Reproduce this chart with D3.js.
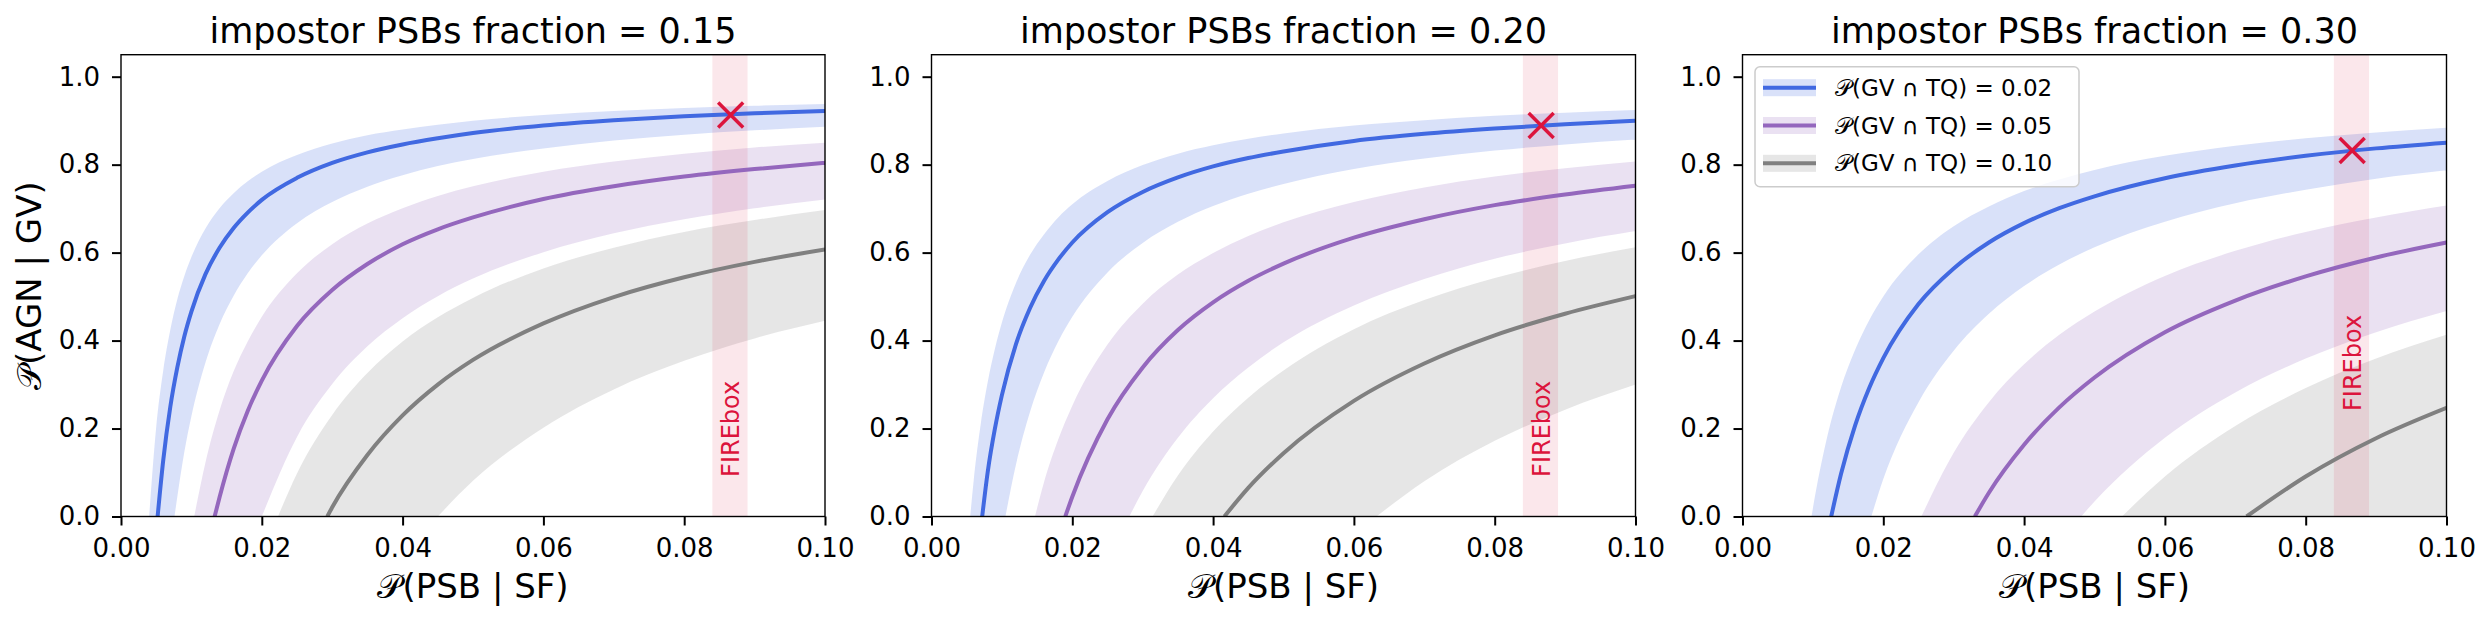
<!DOCTYPE html>
<html>
<head>
<meta charset="utf-8">
<script src="https://cdn.jsdelivr.net/npm/d3@7"></script>
<style>
body { margin: 0; background: #fff; }
svg { font-family: "DejaVu Sans", sans-serif; }
</style>
</head>
<body>
<svg id="chart" width="2492" height="625"></svg>
<script>
// P(PSB|SF) values the curves were read at; each value list is right-aligned to this grid
var psbGrid = [0.005, 0.006, 0.007, 0.008, 0.009, 0.010, 0.012, 0.014, 0.016, 0.018, 0.020,
               0.025, 0.030, 0.035, 0.040, 0.045, 0.050, 0.060, 0.070, 0.080, 0.090, 0.100];

var fractions = ['0.15', '0.20', '0.30'];
var gvtqLabels = ['0.02', '0.05', '0.10'];
var lineColors = ['royalblue', '#9467bd', 'gray'];

var xTicks = [0, 0.02, 0.04, 0.06, 0.08, 0.10];
var yTicks = [0, 0.2, 0.4, 0.6, 0.8, 1.0];

// where each curve leaves zero: [line, lower edge, upper edge] for 0.02 / 0.05 / 0.10
var zero15 = [[0.0052, 0.0076, 0.0040], [0.0133, 0.0200, 0.0104], [0.0293, 0.0450, 0.0223]];
var zero20 = [[0.0072, 0.0105, 0.0055], [0.0190, 0.0281, 0.0147], [0.0416, 0.0632, 0.0314]];
var zero30 = [[0.0126, 0.0183, 0.0098], [0.0330, 0.0481, 0.0254], [0.0716, null, 0.0539]];

// impostor fraction 0.15
var mid15 = [
  [0.128, 0.249, 0.339, 0.410, 0.466, 0.551, 0.611, 0.656, 0.691, 0.720, 0.770, 0.804, 0.828, 0.846, 0.860, 0.872, 0.889, 0.901, 0.910, 0.917, 0.922],
  [0.044, 0.154, 0.240, 0.309, 0.433, 0.515, 0.574, 0.619, 0.653, 0.680, 0.722, 0.751, 0.773, 0.790, 0.804],
  [0.021, 0.140, 0.230, 0.300, 0.356, 0.439, 0.499, 0.544, 0.579, 0.607]
];
var lo15 = [
  [0.045, 0.147, 0.228, 0.350, 0.437, 0.502, 0.553, 0.594, 0.667, 0.715, 0.750, 0.776, 0.797, 0.813, 0.837, 0.855, 0.868, 0.878, 0.886],
  [0.181, 0.301, 0.387, 0.451, 0.501, 0.541, 0.601, 0.644, 0.676, 0.701, 0.721],
  [0.081, 0.202, 0.289, 0.354, 0.405, 0.445]
];
var hi15 = [
  [0.203, 0.332, 0.424, 0.494, 0.547, 0.590, 0.655, 0.701, 0.735, 0.762, 0.784, 0.822, 0.848, 0.867, 0.880, 0.891, 0.900, 0.913, 0.922, 0.929, 0.934, 0.938],
  [0.123, 0.241, 0.330, 0.398, 0.454, 0.553, 0.619, 0.666, 0.701, 0.729, 0.751, 0.784, 0.807, 0.825, 0.839, 0.850],
  [0.098, 0.231, 0.326, 0.398, 0.453, 0.497, 0.564, 0.611, 0.647, 0.674, 0.697]
];

// impostor fraction 0.20
var mid20 = [
  [0.103, 0.199, 0.276, 0.392, 0.474, 0.536, 0.584, 0.623, 0.692, 0.738, 0.771, 0.796, 0.815, 0.830, 0.854, 0.870, 0.882, 0.892, 0.900],
  [0.045, 0.221, 0.339, 0.424, 0.487, 0.536, 0.575, 0.634, 0.676, 0.708, 0.732, 0.752],
  [0.065, 0.144, 0.263, 0.348, 0.412, 0.461, 0.501]
];
var lo20 = [
  [0.118, 0.238, 0.328, 0.398, 0.454, 0.555, 0.622, 0.670, 0.706, 0.734, 0.756, 0.790, 0.814, 0.832, 0.846, 0.857],
  [0.058, 0.179, 0.269, 0.339, 0.396, 0.480, 0.540, 0.586, 0.621, 0.649],
  [0.080, 0.172, 0.243, 0.300]
];
var hi20 = [
  [0.083, 0.211, 0.307, 0.381, 0.441, 0.531, 0.595, 0.642, 0.680, 0.710, 0.763, 0.799, 0.825, 0.844, 0.859, 0.871, 0.889, 0.901, 0.911, 0.918, 0.924],
  [0.079, 0.175, 0.252, 0.391, 0.484, 0.550, 0.599, 0.638, 0.669, 0.715, 0.748, 0.773, 0.792, 0.807],
  [0.093, 0.193, 0.270, 0.332, 0.426, 0.492, 0.542, 0.581, 0.612]
];

// impostor fraction 0.30
var mid30 = [
  [0.097, 0.207, 0.292, 0.360, 0.483, 0.564, 0.623, 0.667, 0.701, 0.728, 0.769, 0.798, 0.820, 0.837, 0.850],
  [0.054, 0.163, 0.248, 0.316, 0.419, 0.491, 0.546, 0.589, 0.623],
  [0.091, 0.178, 0.247]
];
var lo30 = [
  [0.085, 0.260, 0.377, 0.461, 0.524, 0.573, 0.612, 0.670, 0.712, 0.743, 0.768, 0.787],
  [0.034, 0.179, 0.282, 0.359, 0.419, 0.467],
  []
];
var hi30 = [
  [0.019, 0.179, 0.294, 0.379, 0.446, 0.500, 0.596, 0.660, 0.705, 0.740, 0.766, 0.788, 0.820, 0.843, 0.860, 0.873, 0.884],
  [0.145, 0.260, 0.346, 0.413, 0.466, 0.547, 0.604, 0.647, 0.680, 0.707],
  [0.091, 0.206, 0.292, 0.359, 0.413]
];

var fireboxBand = [0.084, 0.089];
var fireboxX = 0.0866;
var fireboxY = [0.913, 0.889, 0.832];
var fireboxTextY = [0.09, 0.09, 0.24];

var zeros = [zero15, zero20, zero30];
var mids = [mid15, mid20, mid30];
var los = [lo15, lo20, lo30];
var his = [hi15, hi20, hi30];

var svg = d3.select('#chart');
var panelLeft = [121, 931.5, 1742.5];
var plotTop = 54.7, plotBottom = 516.5, plotW = 704;
var plotH = plotBottom - plotTop;

var x = d3.scaleLinear().domain([0, 0.1]).range([0, plotW]);
var y = d3.scaleLinear().domain([0, 1.05]).range([plotH, 0]);

var toPoints = (z, vals) => {
  if (z == null || vals.length == 0) return [];
  var xs = psbGrid.slice(psbGrid.length - vals.length);
  return [[z, 0]].concat(xs.map((v, i) => [v, vals[i]]));
};

var line = d3.line().x(d => x(d[0])).y(d => y(d[1])).curve(d3.curveMonotoneX);
var under = d3.area().x(d => x(d[0])).y0(y(0)).y1(d => y(d[1])).curve(d3.curveMonotoneX);

fractions.forEach((frac, p) => {
  var g = svg.append('g').attr('transform', 'translate(' + panelLeft[p] + ',' + plotTop + ')');

  g.append('clipPath').attr('id', 'clip' + p)
    .append('rect').attr('width', plotW).attr('height', plotH);
  var plot = g.append('g').attr('clip-path', 'url(#clip' + p + ')');

  // uncertainty bands: area under upper edge minus area under lower edge
  lineColors.forEach((c, s) => {
    var hiPts = toPoints(zeros[p][s][2], his[p][s]);
    var loPts = toPoints(zeros[p][s][1], los[p][s]);
    plot.append('path')
      .attr('d', under(hiPts) + (loPts.length ? under(loPts) : ''))
      .attr('fill-rule', 'evenodd')
      .attr('fill', c)
      .attr('fill-opacity', 0.2);
  });

  plot.append('rect')
    .attr('x', x(fireboxBand[0]))
    .attr('width', x(fireboxBand[1]) - x(fireboxBand[0]))
    .attr('y', 0).attr('height', plotH)
    .attr('fill', 'crimson').attr('fill-opacity', 0.1);

  lineColors.forEach((c, s) => {
    plot.append('path')
      .attr('d', line(toPoints(zeros[p][s][0], mids[p][s])))
      .attr('fill', 'none')
      .attr('stroke', c)
      .attr('stroke-width', 4);
  });

  // FIREbox estimate
  var mx = x(fireboxX), my = y(fireboxY[p]), r = 12.5;
  g.append('path')
    .attr('d', 'M' + (mx - r) + ',' + (my - r) + 'L' + (mx + r) + ',' + (my + r) +
               'M' + (mx - r) + ',' + (my + r) + 'L' + (mx + r) + ',' + (my - r))
    .attr('stroke', 'crimson').attr('stroke-width', 3.5).attr('fill', 'none');

  g.append('text')
    .attr('transform', 'translate(' + mx + ',' + y(fireboxTextY[p]) + ') rotate(-90)')
    .attr('dy', '0.35em')
    .attr('fill', 'crimson')
    .attr('font-size', 24)
    .text('FIREbox');

  // axes
  var xAxis = g.append('g').attr('transform', 'translate(0,' + plotH + ')')
    .call(d3.axisBottom(x).tickValues(xTicks).tickFormat(d3.format('.2f')).tickSize(9).tickPadding(13));
  var yAxis = g.append('g')
    .call(d3.axisLeft(y).tickValues(yTicks).tickFormat(d3.format('.1f')).tickSize(9).tickPadding(12));
  [xAxis, yAxis].forEach(a => {
    a.select('.domain').remove();
    a.selectAll('line').attr('stroke', '#000').attr('stroke-width', 2);
    a.selectAll('text').attr('font-size', 26).attr('font-family', 'DejaVu Sans').attr('fill', '#000');
  });

  g.append('rect')
    .attr('width', plotW).attr('height', plotH)
    .attr('fill', 'none').attr('stroke', '#000').attr('stroke-width', 1.4);

  g.append('text')
    .attr('x', plotW / 2).attr('y', 42.7 - plotTop)
    .attr('text-anchor', 'middle')
    .attr('font-size', 35)
    .text('impostor PSBs fraction = ' + frac);

  g.append('text')
    .attr('x', plotW / 2).attr('y', 598 - plotTop)
    .attr('text-anchor', 'middle')
    .attr('font-size', 34)
    .text('\u{1D4AB}(PSB | SF)');

  if (p == 0) {
    g.append('text')
      .attr('transform', 'translate(' + (41 - panelLeft[0]) + ',' + (plotH / 2) + ') rotate(-90)')
      .attr('text-anchor', 'middle')
      .attr('font-size', 34)
      .text('\u{1D4AB}(AGN | GV)');
  }

  if (p == 2) {
    var leg = g.append('g').attr('transform', 'translate(' + (1755 - panelLeft[2]) + ',' + (66.7 - plotTop) + ')');
    leg.append('rect')
      .attr('width', 324).attr('height', 120).attr('rx', 5)
      .attr('fill', '#fff').attr('fill-opacity', 0.8)
      .attr('stroke', '#cccccc').attr('stroke-width', 1.5);
    gvtqLabels.forEach((lab, s) => {
      var ry = 21 + s * 37.8;
      leg.append('rect')
        .attr('x', 8).attr('y', ry - 8.5).attr('width', 53).attr('height', 17)
        .attr('fill', lineColors[s]).attr('fill-opacity', 0.2);
      leg.append('line')
        .attr('x1', 8).attr('x2', 61).attr('y1', ry).attr('y2', ry)
        .attr('stroke', lineColors[s]).attr('stroke-width', 4);
      leg.append('text')
        .attr('x', 80).attr('y', ry).attr('dy', '0.35em')
        .attr('font-size', 23)
        .text('\u{1D4AB}(GV \u2229 TQ) = ' + lab);
    });
  }
});
</script>
</body>
</html>
